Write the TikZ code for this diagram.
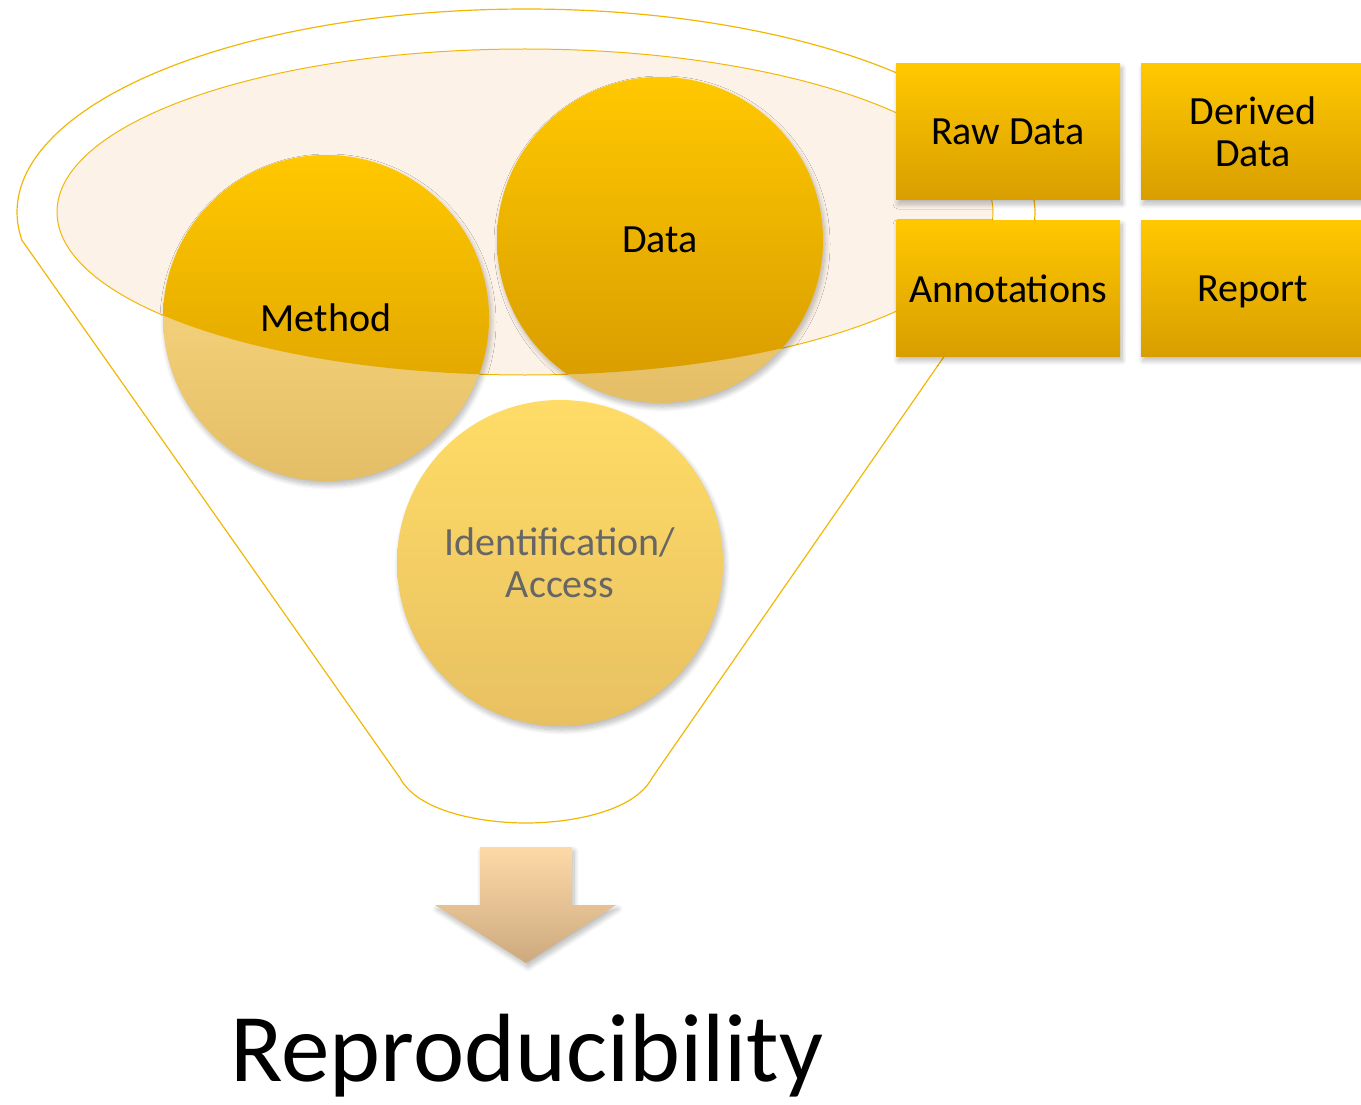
\documentclass[tikz,border=0pt]{standalone}
\usepackage{fontspec}
\setmainfont{Carlito}
\usetikzlibrary{shadows.blur}
\definecolor{gold}{HTML}{F2B705}
\definecolor{ellfill}{HTML}{FCF2E8}
\definecolor{sattop}{HTML}{FFC800}
\definecolor{satbot}{HTML}{D69A00}
\definecolor{paletop}{HTML}{FFE08A}
\definecolor{palebot}{HTML}{E4BE66}
\definecolor{idtop}{HTML}{FFDC66}
\definecolor{idbot}{HTML}{E8C062}
\definecolor{boxtop}{HTML}{FFC800}
\definecolor{boxbot}{HTML}{D89E00}
\definecolor{arrtop}{HTML}{FDD9A8}
\definecolor{arrbot}{HTML}{CDAA7E}
\definecolor{idtext}{HTML}{666666}
\begin{document}
\begin{tikzpicture}[x=1pt,y=-1pt,
  softshadow/.style={blur shadow={shadow xshift=2pt, shadow yshift=-4pt, shadow blur radius=5pt, shadow blur steps=10, shadow opacity=28}},
  funnelline/.style={draw=gold, line width=1.2pt},
  bigcirc/.style={circle, minimum size=326pt, inner sep=0pt, draw=none},
  palecirc/.style={bigcirc, top color=paletop, bottom color=palebot, softshadow},
  satcirc/.style={bigcirc, top color=sattop, bottom color=satbot},
  idcirc/.style={bigcirc, top color=idtop, bottom color=idbot, softshadow},
  boxnode/.style={rectangle, minimum width=224pt, minimum height=136pt, draw=none,
    top color=boxtop, bottom color=boxbot, softshadow,
    font=\fontsize{40}{42}\selectfont, align=center, text depth=0pt},
  lbl/.style={font=\fontsize{40}{42}\selectfont, align=center, text depth=0pt, inner sep=0pt}
]
\useasboundingbox (0,0) rectangle (1361,1105);
\clip (0,0) rectangle (1361,1105);

% funnel outline
\draw[funnelline] plot[domain=172:386.5, samples=160] ({526+509*cos(\x)},{212+203*sin(\x)})
  -- (652,778) .. controls (634,812) and (570,823) .. (526,823)
  .. controls (482,823) and (418,812) .. (400,778) -- cycle;

% inner ellipse
\draw[draw=gold, line width=1pt, fill=ellfill] (525,212) ellipse [x radius=468pt, y radius=163pt];

% circles (pale parts)
\node[palecirc] (method) at (326,318) {};
\node[palecirc] (data) at (660,240) {};
\node[idcirc] (ident) at (560,563) {};

% saturated parts inside the ellipse
\begin{scope}
  \clip (525,212) ellipse [x radius=468pt, y radius=163pt];
  \node[satcirc] (methodsat) at (326,318) {};
  \node[satcirc] (datasat) at (660,240) {};
\end{scope}

% circle labels
\node[lbl] (methodlbl) at (method.center) {Method};
\node[lbl] (datalbl) at (data.center) {Data};
\node[lbl, text=idtext] (identlbl) at (ident.center) {Identification/\\Access};

% boxes
\node[boxnode] (raw) at (1008,132) {Raw Data};
\node[boxnode] (derived) at (1253,132) {Derived\\Data};
\node[boxnode] (annot) at (1008,288.5) {Annotations};
\node[boxnode] (report) at (1253,288.5) {Report};

% arrow
\shade[top color=arrtop, bottom color=arrbot, softshadow]
  (480,847) -- (572,847) -- (572,905) -- (616,905) -- (526,963) -- (435,905) -- (480,905) -- cycle;

% result
\node[font=\fontsize{97}{97}\selectfont, anchor=base, inner sep=0pt] (repro) at (527,1081) {Reproducibility};
\end{tikzpicture}
\end{document}
